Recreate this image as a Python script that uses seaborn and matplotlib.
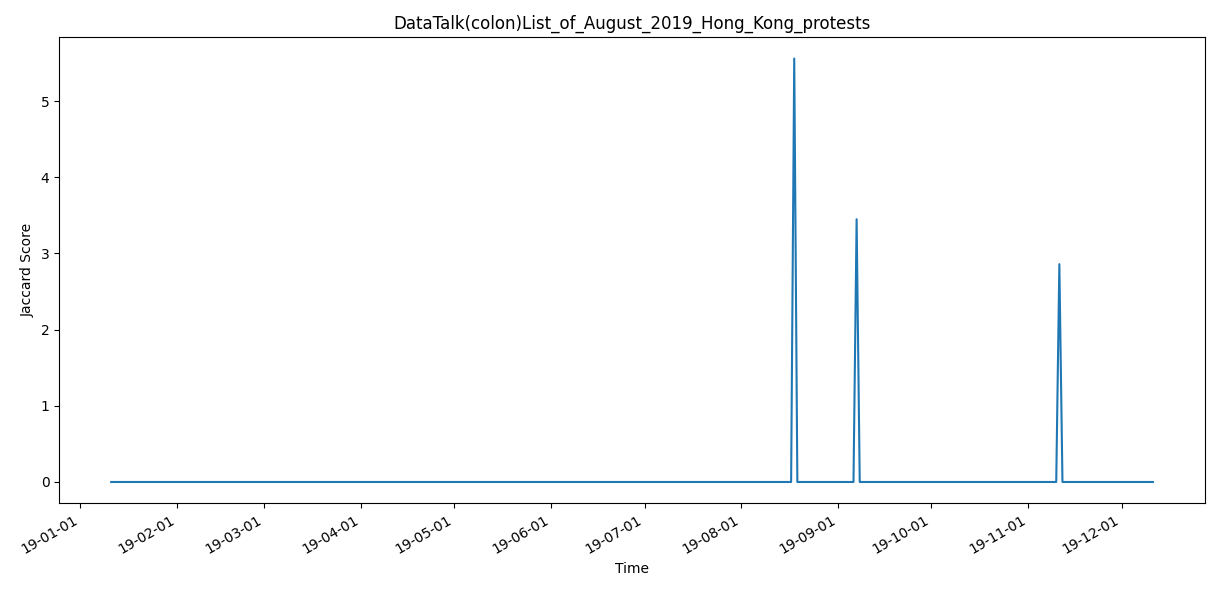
import matplotlib
matplotlib.use("Agg")
import matplotlib.pyplot as plt
import matplotlib.dates as mdates
import seaborn as sns
import pandas as pd

start_date = "2019-01-11"
end_date = "2019-12-11"
spike_dates = ["2019-08-18", "2019-09-07", "2019-11-11"]
spike_values = [5.56, 3.45, 2.86]

dates = pd.date_range(start_date, end_date, freq="D")
scores = pd.Series(0.0, index=dates)
for d, v in zip(spike_dates, spike_values):
    scores[pd.Timestamp(d)] = v
df = pd.DataFrame({"Time": dates, "Jaccard Score": scores.values})

fig, ax = plt.subplots(figsize=(12.2, 5.91), dpi=100)
sns.lineplot(data=df, x="Time", y="Jaccard Score", ax=ax, color="#1f77b4")
ax.set_title("DataTalk(colon)List_of_August_2019_Hong_Kong_protests")
ax.xaxis.set_major_locator(mdates.MonthLocator())
ax.xaxis.set_major_formatter(mdates.DateFormatter("%y-%m-%d"))
fig.autofmt_xdate()
fig.tight_layout()
fig.savefig("out.png")
